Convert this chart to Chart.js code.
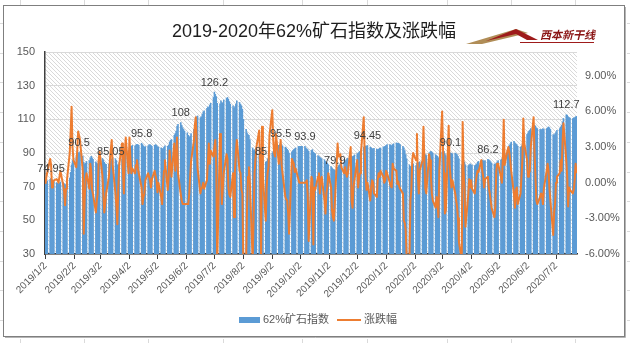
<!DOCTYPE html>
<html>
<head>
<meta charset="utf-8">
<script src="https://cdn.jsdelivr.net/npm/chart.js@4.4.1/dist/chart.umd.min.js"></script>
<style>
  html, body { margin: 0; padding: 0; background: #fff; }
  #wrap { position: relative; width: 630px; height: 343px; }
</style>
</head>
<body>
<div id="wrap"><canvas id="mycanvas" width="630" height="343"></canvas></div>
<script>
// months shown, first and last trading day
var months = ['2019-01', '2019-02', '2019-03', '2019-04', '2019-05', '2019-06', '2019-07', '2019-08', '2019-09',
  '2019-10', '2019-11', '2019-12', '2020-01', '2020-02', '2020-03', '2020-04', '2020-05', '2020-06', '2020-07'];
var firstDay = '2019-01-02';
var lastDay = '2020-07-24';

var tickLabels = ['2019/1/2', '2019/2/2', '2019/3/2', '2019/4/2', '2019/5/2', '2019/6/2', '2019/7/2', '2019/8/2',
  '2019/9/2', '2019/10/2', '2019/11/2', '2019/12/2', '2020/1/2', '2020/2/2', '2020/3/2', '2020/4/2',
  '2020/5/2', '2020/6/2', '2020/7/2'];

// days that carry a value label above the bar
var labelDates = ['2019-01-08', '2019-02-07', '2019-03-13', '2019-04-15', '2019-05-27', '2019-07-02', '2019-08-21',
  '2019-09-11', '2019-10-07', '2019-11-08', '2019-12-13', '2020-03-11', '2020-04-20', '2020-07-13'];

// 62% ore index, one row per month, one value per weekday
var indexValues = [
  [72.0, 72.8, 73.5, 74.3, 74.95, 74.2, 73.6, 73.0, 72.4, 72.0, 71.6, 72.2, 72.8, 72.5, 71.8, 71.0, 71.5, 72.6, 75.0, 78.5, 83.0, 85.5],
  [86.5, 87.8, 89.0, 90.0, 90.5, 89.6, 88.2, 84.5, 83.5, 84.0, 85.0, 85.5, 87.0, 88.0, 87.2, 86.3, 84.8, 84.0, 83.5, 85.0],
  [86.5, 86.8, 86.0, 84.5, 83.5, 83.2, 83.6, 84.2, 85.05, 86.5, 87.2, 86.6, 85.5, 83.0, 82.8, 84.0, 86.5, 87.0, 86.5, 88.0, 90.5],
  [91.5, 92.5, 93.5, 94.0, 94.5, 94.2, 94.8, 95.2, 95.0, 94.6, 95.8, 95.0, 94.2, 93.5, 93.8, 94.3, 94.8, 95.0, 94.5, 94.0, 94.6, 95.0],
  [94.5, 93.8, 93.5, 93.0, 92.5, 92.6, 93.5, 94.2, 94.0, 94.6, 96.5, 97.5, 98.0, 100.5, 101.5, 103.0, 106.0, 107.0, 108.0, 106.5, 105.0, 104.0, 103.0],
  [102.0, 100.5, 99.5, 100.0, 101.5, 104.0, 107.5, 110.5, 111.5, 112.0, 111.0, 111.5, 113.0, 114.5, 115.0, 116.5, 117.5, 117.0, 118.5, 119.5],
  [123.0, 126.2, 124.8, 123.5, 119.5, 119.0, 121.0, 120.0, 119.5, 121.5, 122.5, 123.0, 122.0, 120.5, 119.0, 118.0, 116.5, 117.5, 119.0, 121.0, 120.0, 119.0, 118.0],
  [116.0, 110.0, 104.0, 102.0, 101.0, 100.5, 98.0, 93.0, 91.5, 92.0, 91.0, 90.0, 88.5, 87.0, 85.0, 86.5, 85.5, 84.5, 85.0, 86.5, 87.0, 88.5],
  [90.0, 91.0, 92.5, 93.0, 94.0, 94.5, 95.0, 95.5, 95.0, 94.2, 93.5, 93.0, 92.2, 91.5, 90.0, 90.5, 91.5, 92.0, 92.5, 93.0, 93.9],
  [93.9, 93.9, 93.9, 93.9, 93.9, 93.0, 92.5, 92.0, 91.0, 91.5, 92.0, 90.5, 90.0, 89.5, 88.5, 88.0, 87.5, 87.0, 86.5, 86.0, 85.0, 84.5, 84.0],
  [83.0, 82.0, 81.2, 80.5, 80.2, 79.9, 81.5, 82.5, 83.0, 83.5, 84.0, 84.5, 85.2, 85.8, 86.5, 87.0, 88.5, 88.0, 87.8, 88.2, 88.8],
  [89.5, 90.0, 90.5, 91.0, 92.0, 93.5, 94.0, 94.0, 94.2, 94.45, 93.5, 93.0, 92.5, 92.5, 92.8, 92.3, 92.0, 92.3, 92.8, 93.0, 93.5, 93.8],
  [94.0, 94.5, 95.0, 95.0, 94.7, 94.3, 95.0, 95.5, 96.0, 95.8, 95.8, 95.5, 95.0, 94.0, 93.0, 91.5, 89.0, 86.5, 83.0, 82.0, 81.5, 82.5, 83.5],
  [82.5, 84.0, 84.5, 84.0, 84.8, 86.0, 88.0, 89.5, 89.0, 88.5, 89.5, 90.5, 91.0, 90.5, 90.0, 89.0, 88.5, 88.0, 87.0, 87.5],
  [90.5, 91.5, 91.0, 89.5, 88.5, 89.5, 89.8, 90.1, 89.8, 89.5, 90.0, 89.5, 89.0, 88.0, 86.5, 83.0, 85.0, 85.5, 84.5, 83.0, 82.5, 83.0],
  [83.5, 83.0, 82.8, 82.5, 83.0, 83.5, 84.5, 85.0, 85.5, 85.8, 85.5, 85.0, 85.5, 86.2, 86.0, 85.5, 84.8, 84.0, 83.5, 83.2, 84.0, 84.8],
  [85.5, 86.0, 86.5, 87.5, 89.0, 90.0, 91.5, 93.0, 94.5, 95.5, 96.5, 97.0, 96.0, 95.5, 95.0, 94.0, 93.5, 94.0, 95.5, 98.0, 100.0],
  [101.0, 102.0, 103.0, 103.5, 104.5, 106.0, 106.5, 106.0, 105.0, 104.5, 104.0, 103.5, 104.0, 104.5, 104.0, 104.5, 105.0, 105.5, 105.0, 104.0, 101.0, 100.5],
  [101.5, 102.5, 103.5, 104.5, 105.5, 106.5, 108.5, 110.5, 112.7, 112.5, 111.5, 111.0, 110.8, 110.5, 110.8, 111.0, 111.5, 111.8]
];

// daily change in %, same layout
var changeValues = [
  [-0.1, 0.5, 0.9, 2.0, 1.5, -0.4, 0.0, 0.2, 0.3, 0.2, 0.0, 0.5, 1.0, -0.2, -0.8, -1.9, -0.5, 0.2, 2.5, 4.3, 6.4, 3.0],
  [1.9, 1.3, 2.7, 4.3, 4.0, 3.6, 1.0, -4.3, -1.5, 0.3, 0.8, -0.5, 1.6, 1.0, -0.6, -1.0, -2.5, -1.5, -0.9, 1.9],
  [2.6, 0.6, -1.0, -2.5, -1.8, -0.9, 0.5, 1.8, 2.8, 3.6, 1.5, -0.9, -2.0, -3.5, -0.5, 1.5, 3.3, 1.0, -0.9, 2.5, 3.8],
  [0.8, 3.8, 2.0, 0.8, 1.2, 0.8, 1.5, 1.9, 1.2, 0.8, -0.4, -1.8, -1.2, -0.9, 0.2, 0.8, 0.5, 0.2, -0.4, 0.3, 1.0, 0.6],
  [0.2, -0.8, 0.0, -1.2, -1.8, 0.0, 1.0, 1.9, -0.6, 0.5, 2.7, 1.6, 0.5, 3.3, 1.0, 2.0, 3.8, 0.8, -1.0, -1.5, -1.8, -1.8, -1.8],
  [-1.8, -1.8, -1.0, 0.5, 1.8, 3.5, 4.8, 5.5, 3.6, 1.2, -0.9, -0.5, -0.4, 0.0, -0.5, 0.2, 1.8, 3.3, 1.6, 2.7],
  [2.2, 3.0, 3.6, 1.3, -6.8, 4.1, 2.0, -1.8, -0.5, 0.8, 2.4, 2.0, -0.4, -1.0, -1.2, 0.8, -2.9, 1.0, 2.5, 3.6, 1.0, 0.8, -0.6],
  [-0.9, -6.8, -6.5, -2.0, 0.5, 1.3, 0.0, -6.6, -3.0, 0.8, 2.0, 3.0, 4.4, 1.5, -6.5, 4.7, 0.5, -3.2, -0.4, 0.8, 1.3, 4.0],
  [6.1, 3.6, 2.5, 2.2, 4.1, 1.6, 2.4, 3.6, 1.5, 0.8, -1.2, -1.4, -1.5, -2.5, -4.3, 2.0, 1.8, 1.6, 0.9, 1.2, 0.3],
  [0.0, 0.0, 0.0, 0.0, 0.0, 0.0, 0.2, -1.0, -4.9, 0.5, 0.2, -5.2, -0.4, -0.6, 0.5, 0.8, -0.9, 0.2, 0.5, -1.5, -2.6, -0.9, -0.4],
  [0.8, -0.4, -2.3, -2.9, -3.2, -1.8, 3.3, 2.2, 2.2, 2.4, 1.3, 0.8, 1.3, 0.8, 0.5, 0.8, 3.0, -1.5, -2.1, -0.4, 0.2],
  [1.9, -0.4, 0.4, 0.8, 2.5, 5.5, 2.5, 0.5, -0.6, 0.0, -1.5, -0.4, 0.2, 0.0, -0.9, -1.2, 0.3, 0.8, 0.5, 1.0, 0.5, 0.0],
  [0.2, 1.0, 0.8, 0.0, -0.3, -0.4, 1.6, 1.2, 1.0, -0.1, 0.1, -0.3, -0.5, -0.9, -3.2, -3.4, -4.0, -6.3, -6.5, -1.5, -0.6, 1.9, 2.5],
  [1.9, 4.1, 0.5, -0.9, 1.0, 1.9, 4.7, 1.9, -0.5, -0.9, 2.4, 1.9, 0.5, -0.9, -1.5, -2.1, -1.2, -1.5, -2.9, 1.0],
  [6.0, 2.7, 0.8, -2.6, -2.3, 4.8, 1.5, 0.5, -0.4, 0.2, -0.9, -1.5, -2.0, -3.0, -5.0, -6.5, 5.1, 1.0, -0.5, -3.7, -1.0, 0.3],
  [-0.4, 0.2, -0.5, -0.9, 0.0, 0.6, 1.0, 0.9, 1.9, 1.0, 0.5, -0.4, 0.3, 0.5, -0.4, -0.9, -1.5, -2.1, -2.9, -2.0, 1.0, 1.6],
  [1.6, 0.5, 0.0, 2.0, 5.3, 1.5, 2.7, 3.0, 2.5, 1.9, 1.0, -1.0, -2.1, -0.6, -0.4, -1.8, -0.9, 0.5, 1.9, 5.4, 3.3],
  [1.9, 0.5, 0.8, 1.0, 3.0, 5.5, 2.5, 0.5, -1.5, -1.8, -1.2, -0.9, -1.0, -1.8, -0.5, 1.0, 1.6, 1.0, -0.5, -1.5, -4.4, -2.5],
  [-1.8, 0.0, 0.5, 0.8, 1.9, 1.0, 3.3, 5.0, 1.9, 0.5, -2.0, -0.4, -0.6, -0.9, -0.6, 0.2, 1.6, 0.8]
];

var leftTicks = [30, 50, 70, 90, 110, 130, 150];
var rightTicks = [-6, -3, 0, 3, 6, 9];

// day number counted from the first day
function dayNo(s) {
  var p = s.split(/[-\/]/);
  return Math.round((Date.UTC(+p[0], p[1] - 1, +p[2]) - Date.UTC(2019, 0, 2)) / 864e5);
}

var startNo = dayNo(firstDay), endNo = dayNo(lastDay);
var barData = [], lineData = [];
months.forEach(function (m, k) {
  var p = m.split('-'), yr = +p[0], mo = +p[1] - 1, days = [];
  for (var d = 1; d <= 31; d++) {
    var dt = new Date(Date.UTC(yr, mo, d));
    if (dt.getUTCMonth() !== mo) break;
    var wd = dt.getUTCDay(), n = dayNo(yr + '-' + (mo + 1) + '-' + d);
    if (wd === 0 || wd === 6 || n < startNo || n > endNo) continue;
    days.push(n);
  }
  if (days.length !== indexValues[k].length || days.length !== changeValues[k].length) {
    console.log('length mismatch', m, days.length, indexValues[k].length, changeValues[k].length);
  }
  days.forEach(function (n, i) {
    barData.push({ x: n, y: indexValues[k][i] });
    lineData.push({ x: n, y: changeValues[k][i] });
  });
});

var tickDays = tickLabels.map(dayNo);
var labelDays = labelDates.map(dayNo);

var decor = {
  id: 'decor',
  beforeDraw: function (chart) {
    var c = chart.ctx, a = chart.chartArea;
    // hatched plot background
    var pc = document.createElement('canvas');
    pc.width = 4; pc.height = 4;
    var pg = pc.getContext('2d');
    pg.fillStyle = '#fff'; pg.fillRect(0, 0, 4, 4);
    pg.fillStyle = '#d9d9d9';
    for (var i = 0; i < 4; i++) pg.fillRect(i, i, 1, 1);
    c.save();
    c.fillStyle = c.createPattern(pc, 'repeat');
    c.fillRect(a.left, a.top, a.right - a.left, a.bottom - a.top);
    c.restore();
  },
  afterDraw: function (chart) {
    var c = chart.ctx;
    c.save();
    // sheet cell lines outside the chart frame
    c.strokeStyle = '#dadada'; c.lineWidth = 1;
    [20, 84, 148, 223, 302, 367, 447, 511, 575].forEach(function (x) {
      c.beginPath(); c.moveTo(x + 0.5, 0); c.lineTo(x + 0.5, 5); c.stroke();
      c.beginPath(); c.moveTo(x + 0.5, 339); c.lineTo(x + 0.5, 343); c.stroke();
    });
    for (var yy = 23; yy < 343; yy += 29.7) {
      c.beginPath(); c.moveTo(627, Math.round(yy) + 0.5); c.lineTo(630, Math.round(yy) + 0.5); c.stroke();
      c.beginPath(); c.moveTo(0, Math.round(yy) + 0.5); c.lineTo(3, Math.round(yy) + 0.5); c.stroke();
    }
    // chart frame with shadow
    c.strokeStyle = '#7f7f7f'; c.lineWidth = 1;
    c.strokeRect(3.5, 5.5, 621, 331);
    c.strokeStyle = '#b5b5b5';
    c.beginPath(); c.moveTo(625.5, 7); c.lineTo(625.5, 337.5); c.lineTo(5, 337.5); c.stroke();

    // title
    c.fillStyle = '#1e1e1e';
    c.font = "18px 'Liberation Sans', 'Noto Sans CJK SC', sans-serif";
    c.textAlign = 'center'; c.textBaseline = 'middle';
    c.fillText('2019-2020年62%矿石指数及涨跌幅', 314, 32);

    // logo
    c.fillStyle = '#b08d57';
    c.beginPath(); c.moveTo(466, 44); c.lineTo(516, 29); c.lineTo(528, 33); c.lineTo(482, 44); c.closePath(); c.fill();
    c.fillStyle = '#9e1b1b';
    c.beginPath(); c.moveTo(486, 41); c.lineTo(516, 29); c.lineTo(538, 40); c.lineTo(527, 40); c.lineTo(516, 34); c.closePath(); c.fill();
    c.fillRect(520, 42, 74, 1);
    c.fillStyle = '#8a1414';
    c.font = "italic bold 11px 'Noto Sans CJK SC', sans-serif";
    c.textAlign = 'left'; c.textBaseline = 'alphabetic';
    c.fillText('西本新干线', 540, 39);

    // legend
    c.fillStyle = '#5B9BD5';
    c.fillRect(239, 317, 21, 6);
    c.strokeStyle = '#ED7D31'; c.lineWidth = 2;
    c.beginPath(); c.moveTo(337, 320); c.lineTo(361, 320); c.stroke();
    c.fillStyle = '#595959';
    c.font = "11px 'Liberation Sans', 'Noto Sans CJK SC', sans-serif";
    c.textBaseline = 'middle';
    c.fillText('62%矿石指数', 263, 320);
    c.fillText('涨跌幅', 364, 320);

    // value labels above chosen bars
    var meta = chart.getDatasetMeta(1);
    c.fillStyle = '#404040';
    c.font = "11px 'Liberation Sans', sans-serif";
    c.textAlign = 'center'; c.textBaseline = 'bottom';
    labelDays.forEach(function (n) {
      for (var i = 0; i < barData.length; i++) {
        if (barData[i].x === n) {
          var el = meta.data[i];
          c.fillText(String(barData[i].y), el.x, el.y - 4);
          break;
        }
      }
    });
    c.restore();
  }
};

Chart.defaults.font.family = "'Liberation Sans', 'Noto Sans CJK SC', sans-serif";
Chart.defaults.color = '#595959';

var ctx = document.getElementById('mycanvas');
var chart = new Chart(ctx, {
  type: 'bar',
  data: {
    datasets: [
      {
        type: 'line',
        label: '涨跌幅',
        data: lineData,
        yAxisID: 'y1',
        borderColor: '#ED7D31',
        backgroundColor: '#ED7D31',
        borderWidth: 2,
        borderJoinStyle: 'round',
        pointRadius: 0,
        tension: 0,
        clip: 0,
        order: 0
      },
      {
        type: 'bar',
        label: '62%矿石指数',
        data: barData,
        yAxisID: 'y',
        backgroundColor: '#5B9BD5',
        barThickness: 0.9,
        order: 1
      }
    ]
  },
  options: {
    responsive: false,
    animation: false,
    devicePixelRatio: 1,
    layout: { padding: { top: 52, left: 0, right: 0, bottom: 0 } },
    plugins: {
      legend: { display: false },
      tooltip: { enabled: false }
    },
    scales: {
      x: {
        type: 'linear',
        min: startNo - 0.5,
        max: endNo + 0.5,
        offset: false,
        grid: { offset: false, drawOnChartArea: false, drawTicks: true, tickLength: 5, tickColor: '#404040' },
        border: { color: '#303030', width: 1.5 },
        afterBuildTicks: function (s) { s.ticks = tickDays.map(function (v) { return { value: v }; }); },
        afterFit: function (s) { s.height = 89; },
        ticks: {
          autoSkip: false,
          maxRotation: 45,
          minRotation: 45,
          padding: 1,
          font: { size: 10 },
          callback: function (v, i) { return tickLabels[i]; }
        }
      },
      y: {
        position: 'left',
        min: 30,
        max: 150,
        grid: { color: '#d9d9d9', drawTicks: false },
        border: { color: '#404040', width: 1.5 },
        afterBuildTicks: function (s) { s.ticks = leftTicks.map(function (v) { return { value: v }; }); },
        afterFit: function (s) { s.width = 45; },
        ticks: { padding: 10, font: { size: 11 } }
      },
      y1: {
        position: 'right',
        min: -6,
        max: 11,
        grid: { drawOnChartArea: false, drawTicks: false },
        border: { display: false },
        afterBuildTicks: function (s) { s.ticks = rightTicks.map(function (v) { return { value: v }; }); },
        afterFit: function (s) { s.width = 53; },
        ticks: {
          padding: 8,
          font: { size: 11 },
          callback: function (v) { return v.toFixed(2) + '%'; }
        }
      }
    }
  },
  plugins: [decor]
});
</script>
</body>
</html>
